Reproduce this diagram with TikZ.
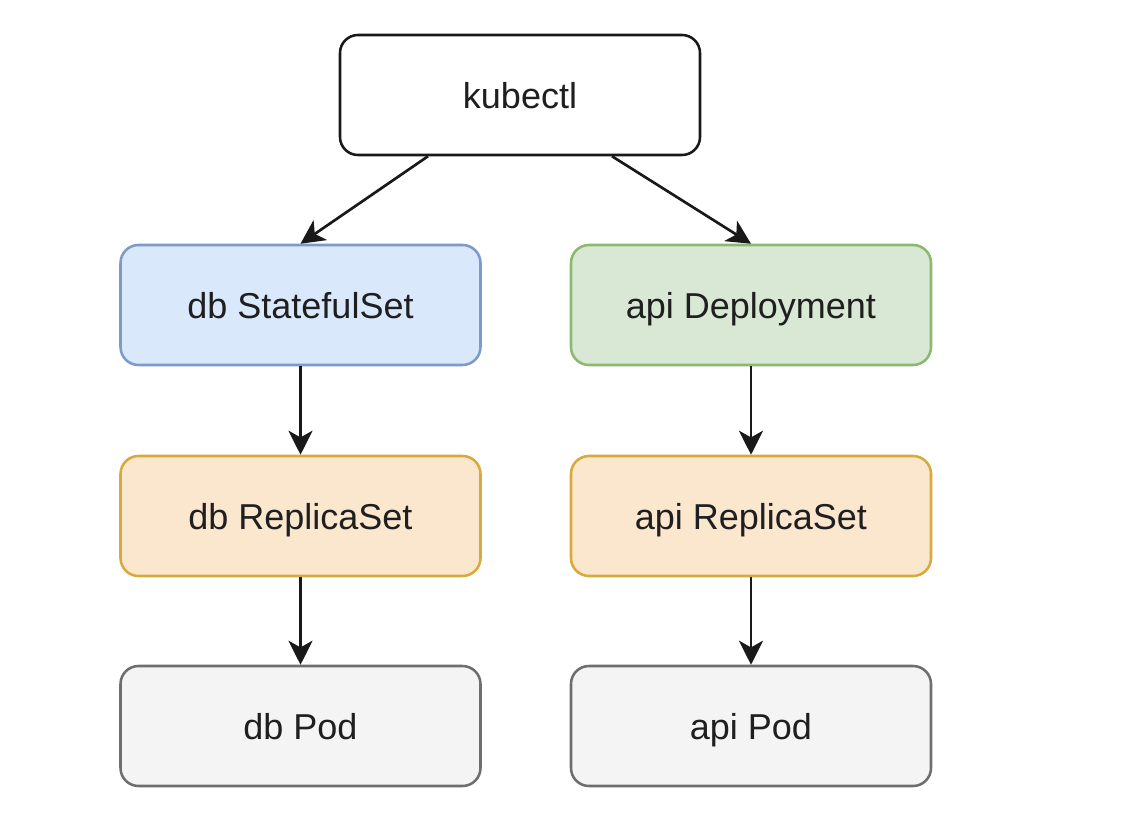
\documentclass[tikz,border=0pt]{standalone}
\usepackage{fontspec}
\setmainfont{Liberation Sans}
\usetikzlibrary{arrows.meta}
\definecolor{bluefill}{HTML}{DAE8FC}
\definecolor{bluestroke}{HTML}{7C9BC9}
\definecolor{greenfill}{HTML}{D8E8D4}
\definecolor{greenstroke}{HTML}{8DB86F}
\definecolor{orangefill}{HTML}{FBE6CE}
\definecolor{orangestroke}{HTML}{D8A93C}
\definecolor{grayfill}{HTML}{F4F4F4}
\definecolor{graystroke}{HTML}{6E6E6E}
\tikzset{
  box/.style={draw, line width=1.9pt, rounded corners=13.5pt, minimum width=270pt,
    minimum height=90pt, inner sep=0pt, text depth=0pt,
    font=\fontsize{27pt}{30pt}\selectfont, text=black!88},
  plainbox/.style={box, draw=black!90, fill=white},
  bluebox/.style={box, draw=bluestroke, fill=bluefill},
  greenbox/.style={box, draw=greenstroke, fill=greenfill},
  orangebox/.style={box, draw=orangestroke, fill=orangefill},
  graybox/.style={box, draw=graystroke, fill=grayfill},
  conn/.style={line width=2pt, draw=black!90, -{Stealth[length=18pt,width=18pt,inset=5pt]}}
}
\begin{document}
\begin{tikzpicture}[x=0.75pt,y=-0.75pt]
\useasboundingbox[fill=white] (0,0) rectangle (1132,820);
\node[plainbox] (k) at (520,95) {kubectl};
\node[bluebox] (ss) at (300.5,305) {db StatefulSet};
\node[greenbox] (dep) at (751,305) {api Deployment};
\node[orangebox] (dbrs) at (300.5,516) {db ReplicaSet};
\node[orangebox] (apirs) at (751,516) {api ReplicaSet};
\node[graybox] (dbpod) at (300.5,726) {db Pod};
\node[graybox] (apipod) at (751,726) {api Pod};
\coordinate (kl) at ([xshift=-69pt]k.south);
\coordinate (kr) at ([xshift=69pt]k.south);
\draw[conn] (kl) -- (ss.north);
\draw[conn] (kr) -- (dep.north);
\draw[conn] (ss) -- (dbrs);
\draw[conn] (dbrs) -- (dbpod);
\draw[conn] (dep) -- (apirs);
\draw[conn] (apirs) -- (apipod);
\end{tikzpicture}
\end{document}
